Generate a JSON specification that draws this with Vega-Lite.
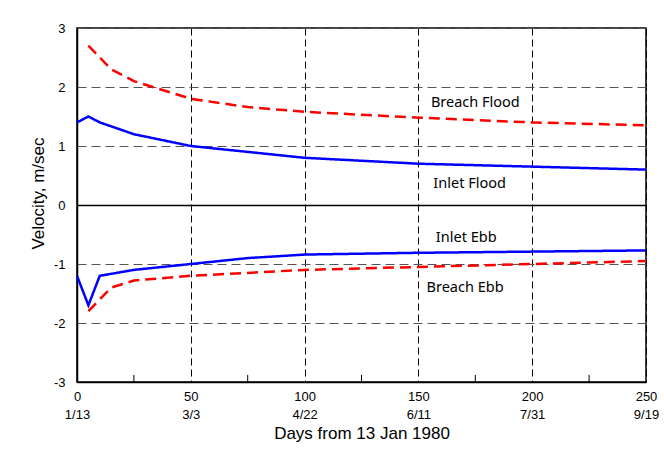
{
  "$schema": "https://vega.github.io/schema/vega-lite/v6.json",
  "autosize": {"type": "none"},
  "padding": {"left": 77, "top": 28, "right": 18, "bottom": 73},
  "width": 569,
  "height": 354,
  "background": "white",
  "config": {
    "view": {"stroke": "black", "strokeWidth": 1.5},
    "font": "Liberation Sans"
  },
  "datasets": {
    "lines": [
      {"series": "Breach Flood", "day": 5, "v": 2.7},
      {"series": "Breach Flood", "day": 15, "v": 2.3},
      {"series": "Breach Flood", "day": 25, "v": 2.1},
      {"series": "Breach Flood", "day": 50, "v": 1.8},
      {"series": "Breach Flood", "day": 75, "v": 1.66},
      {"series": "Breach Flood", "day": 100, "v": 1.58},
      {"series": "Breach Flood", "day": 150, "v": 1.48},
      {"series": "Breach Flood", "day": 200, "v": 1.4},
      {"series": "Breach Flood", "day": 250, "v": 1.35},
      {"series": "Inlet Flood", "day": 0, "v": 1.4},
      {"series": "Inlet Flood", "day": 5, "v": 1.5},
      {"series": "Inlet Flood", "day": 10, "v": 1.4},
      {"series": "Inlet Flood", "day": 25, "v": 1.2},
      {"series": "Inlet Flood", "day": 50, "v": 1.0},
      {"series": "Inlet Flood", "day": 75, "v": 0.9},
      {"series": "Inlet Flood", "day": 100, "v": 0.8},
      {"series": "Inlet Flood", "day": 150, "v": 0.7},
      {"series": "Inlet Flood", "day": 200, "v": 0.65},
      {"series": "Inlet Flood", "day": 250, "v": 0.6},
      {"series": "Inlet Ebb", "day": 0, "v": -1.2},
      {"series": "Inlet Ebb", "day": 5, "v": -1.7},
      {"series": "Inlet Ebb", "day": 10, "v": -1.2},
      {"series": "Inlet Ebb", "day": 25, "v": -1.1},
      {"series": "Inlet Ebb", "day": 50, "v": -1.0},
      {"series": "Inlet Ebb", "day": 75, "v": -0.9},
      {"series": "Inlet Ebb", "day": 100, "v": -0.84},
      {"series": "Inlet Ebb", "day": 150, "v": -0.81},
      {"series": "Inlet Ebb", "day": 200, "v": -0.79},
      {"series": "Inlet Ebb", "day": 250, "v": -0.77},
      {"series": "Breach Ebb", "day": 5, "v": -1.8},
      {"series": "Breach Ebb", "day": 15, "v": -1.4},
      {"series": "Breach Ebb", "day": 25, "v": -1.28},
      {"series": "Breach Ebb", "day": 50, "v": -1.2},
      {"series": "Breach Ebb", "day": 100, "v": -1.1},
      {"series": "Breach Ebb", "day": 150, "v": -1.05},
      {"series": "Breach Ebb", "day": 200, "v": -1.0},
      {"series": "Breach Ebb", "day": 250, "v": -0.95}
    ],
    "labels": [
      {"text": "Breach Flood", "day": 175, "v": 1.73},
      {"text": "Inlet Flood", "day": 172.5, "v": 0.36},
      {"text": "Inlet Ebb", "day": 171, "v": -0.56},
      {"text": "Breach Ebb", "day": 170.5, "v": -1.41}
    ]
  },
  "layer": [
    {
      "data": {"name": "lines"},
      "mark": {"type": "line", "strokeWidth": 2.5},
      "encoding": {
        "x": {
          "field": "day", "type": "quantitative",
          "scale": {"domain": [0, 250], "nice": false, "zero": false},
          "axis": {
            "values": [0, 50, 100, 150, 200, 250],
            "labelExpr": "[datum.label, {'0':'1/13','50':'3/3','100':'4/22','150':'6/11','200':'7/31','250':'9/19'}[datum.label]]",
            "labelFontSize": 13,
            "labelColor": "black",
            "labelPadding": 8,
            "labelLineHeight": 18,
            "labelFlush": false,
            "labelOverlap": false,
            "ticks": false,
            "domainColor": "black",
            "domainWidth": 1.5,
            "grid": true,
            "gridColor": "black",
            "gridDash": [7, 4],
            "gridWidth": 1,
            "gridOpacity": 1,
            "title": "Days from 13 Jan 1980",
            "titleFontSize": 17,
            "titleFontWeight": "normal",
            "titleColor": "black",
            "titlePadding": 4
          }
        },
        "y": {
          "field": "v", "type": "quantitative",
          "scale": {"domain": [-3, 3], "nice": false},
          "axis": {
            "values": [-3, -2, -1, 0, 1, 2, 3],
            "labelExpr": "toString(datum.value)",
            "labelFontSize": 13,
            "labelColor": "black",
            "labelPadding": 12,
            "labelFlush": false,
            "labelOverlap": false,
            "ticks": false,
            "domainColor": "black",
            "domainWidth": 1.5,
            "grid": true,
            "gridColor": {"condition": {"test": "datum.value === 0", "value": "black"}, "value": "#555555"},
            "gridDash": {"condition": {"test": "datum.value === 0", "value": []}, "value": [9, 5]},
            "gridWidth": {"condition": {"test": "datum.value === 0", "value": 1.5}, "value": 1.2},
            "gridOpacity": 1,
            "title": "Velocity, m/sec",
            "titleFontSize": 17,
            "titleFontWeight": "normal",
            "titleColor": "black",
            "titlePadding": 6,
            "titleY": 165
          }
        },
        "detail": {"field": "series"},
        "color": {
          "field": "series", "type": "nominal",
          "scale": {"domain": ["Breach Flood", "Inlet Flood", "Inlet Ebb", "Breach Ebb"], "range": ["#ff0000", "#0000ff", "#0000ff", "#ff0000"]},
          "legend": null
        },
        "strokeDash": {
          "field": "series", "type": "nominal",
          "scale": {"domain": ["Breach Flood", "Inlet Flood", "Inlet Ebb", "Breach Ebb"], "range": [[11, 6], [1, 0], [1, 0], [11, 6]]},
          "legend": null
        }
      }
    },
    {
      "data": {"values": [{"day": 25}, {"day": 75}, {"day": 125}, {"day": 175}, {"day": 225}]},
      "mark": {"type": "rule", "color": "black", "strokeWidth": 1},
      "encoding": {
        "x": {"field": "day", "type": "quantitative"},
        "y": {"datum": -3},
        "y2": {"datum": -2.88}
      }
    },
    {
      "data": {"name": "labels"},
      "mark": {"type": "text", "font": "Comic Sans MS, Noto Sans", "fontSize": 14.5, "color": "black", "align": "center", "baseline": "middle"},
      "encoding": {
        "x": {"field": "day", "type": "quantitative"},
        "y": {"field": "v", "type": "quantitative"},
        "text": {"field": "text"}
      }
    }
  ]
}
